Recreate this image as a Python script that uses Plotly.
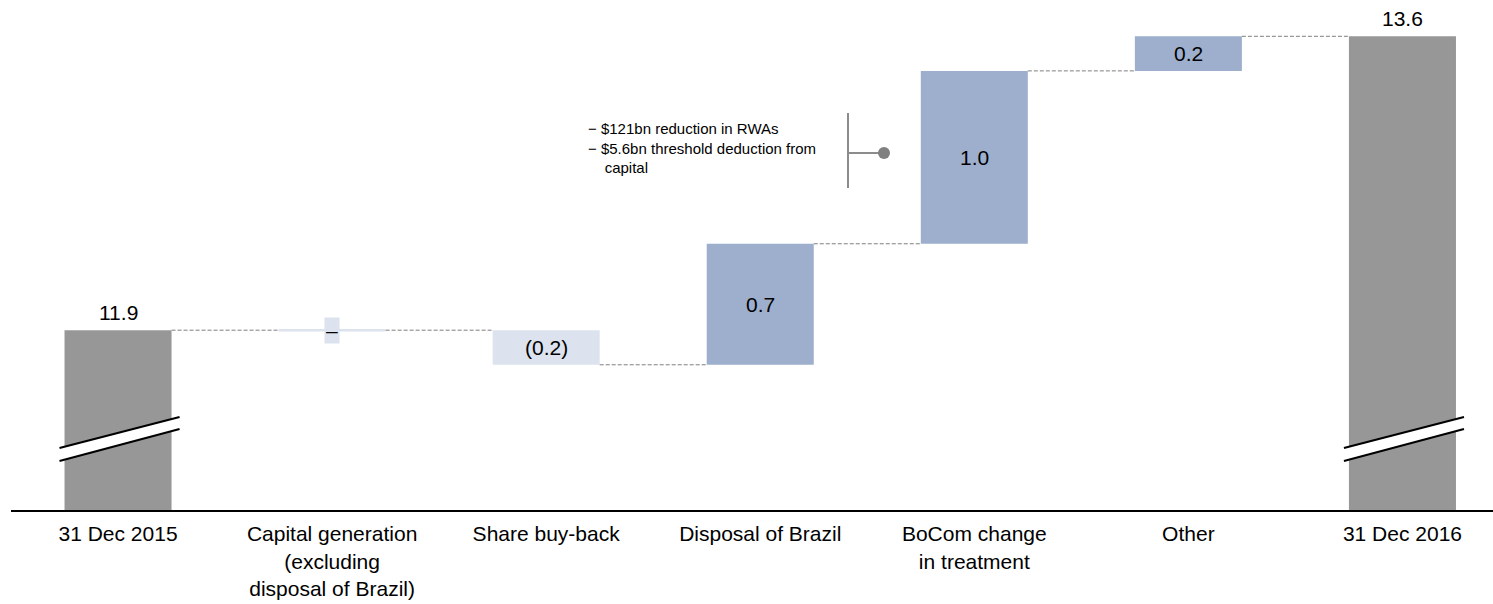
import plotly.graph_objects as go

# ---------------- data ----------------
categories = [
    "31 Dec 2015",
    "Capital generation<br>(excluding<br>disposal of Brazil)",
    "Share buy-back",
    "Disposal of Brazil",
    "BoCom change<br>in treatment",
    "Other",
    "31 Dec 2016",
]
start_value = 11.9
changes = [0.0, -0.2, 0.7, 1.0, 0.2]
end_value = 13.6
value_labels = ["11.9", "\u2013", "(0.2)", "0.7", "1.0", "0.2", "13.6"]
callout_text = ("\u2212 $121bn reduction in RWAs<br>"
                "\u2212 $5.6bn threshold deduction from<br>"
                "\u00a0\u00a0\u00a0\u00a0capital")

# ---------------- style ----------------
FONT = "Arial, Liberation Sans, sans-serif"
GREY = "#979797"
BLUE = "#9dafcd"
LIGHT = "#dce3ee"
CONN = "#7f7f7f"
Y_FLOOR = 10.86          # broken-axis floor
Y_TOP = 13.81
W, H = 1493, 604
ML, MR, MT, MB = 11, 0, 0, 94
X_RANGE = [-0.5, 6.423]
BAR_W = 0.5
LBL = 21

plot_h = H - MT - MB
px_per_unit = plot_h / (Y_TOP - Y_FLOOR)
plot_w = W - ML - MR
px_per_cat = plot_w / (X_RANGE[1] - X_RANGE[0])

# ---------------- waterfall geometry ----------------
n = len(categories)
bases, heights, colors = [], [], []
levels = []
bases.append(Y_FLOOR); heights.append(start_value - Y_FLOOR); colors.append(GREY)
running = start_value
levels.append(running)
for c in changes:
    new = running + c
    lo, hi = min(running, new), max(running, new)
    bases.append(lo); heights.append(hi - lo)
    colors.append(LIGHT if c <= 0 else BLUE)
    running = new
    levels.append(running)
bases.append(Y_FLOOR); heights.append(end_value - Y_FLOOR); colors.append(GREY)
levels.append(end_value)

xs = list(range(n))
fig = go.Figure()

fig.add_trace(go.Bar(
    x=xs, y=heights, base=bases, width=BAR_W,
    marker=dict(color=colors, line=dict(width=0)),
    hoverinfo="skip", showlegend=False,
))

for i, c in enumerate(changes, start=1):
    if c == 0:
        fig.add_trace(go.Scatter(
            x=[i - BAR_W / 2, i + BAR_W / 2], y=[levels[i], levels[i]],
            mode="lines", line=dict(color=LIGHT, width=2.5),
            hoverinfo="skip", showlegend=False,
        ))

cx, cy = [], []
for i in range(n - 1):
    lvl = levels[i]
    cx += [i + BAR_W / 2, i + 1 - BAR_W / 2, None]
    cy += [lvl, lvl, None]
fig.add_trace(go.Scatter(
    x=cx, y=cy, mode="lines",
    line=dict(color=CONN, width=1, dash="4px,2px"),
    hoverinfo="skip", showlegend=False,
))

annotations = []
for i in range(n):
    top = bases[i] + heights[i]
    if i in (0, n - 1):
        annotations.append(dict(
            x=i, y=top, xref="x", yref="y", text=value_labels[i],
            showarrow=False, yanchor="bottom", yshift=4,
            font=dict(family=FONT, size=LBL, color="black"),
        ))
    elif heights[i] == 0:
        annotations.append(dict(
            x=i, y=top, xref="x", yref="y", text=value_labels[i],
            showarrow=False, yanchor="middle", bgcolor=LIGHT, borderpad=1,
            font=dict(family=FONT, size=LBL, color="black"),
        ))
    else:
        annotations.append(dict(
            x=i, y=bases[i] + heights[i] / 2, xref="x", yref="y",
            text=value_labels[i], showarrow=False, yanchor="middle",
            font=dict(family=FONT, size=LBL, color="black"),
        ))

def px_x(p):
    return (p - ML) / plot_w

def px_y(p):
    return (H - MB - p) / plot_h

annotations.append(dict(
    x=px_x(818), y=px_y(148), xref="paper", yref="paper",
    text=callout_text, showarrow=False, xanchor="right", yanchor="middle",
    align="left", font=dict(family=FONT, size=15, color="black"),
))

shapes = []
shapes.append(dict(type="line", xref="paper", yref="paper",
                   x0=px_x(848), x1=px_x(848), y0=px_y(113), y1=px_y(188),
                   line=dict(color="#8c8c8c", width=2)))
shapes.append(dict(type="line", xref="paper", yref="paper",
                   x0=px_x(848), x1=px_x(884), y0=px_y(153), y1=px_y(153),
                   line=dict(color="#8c8c8c", width=2)))
shapes.append(dict(type="circle", xref="paper", yref="paper",
                   x0=px_x(878), x1=px_x(890), y0=px_y(147), y1=px_y(159),
                   fillcolor="#808080", line=dict(width=0)))

dxl = 0.25 + 5 / px_per_cat
dxr = 0.25 + 8 / px_per_cat
up_l = (510 - 448) / px_per_unit
up_r = (510 - 417) / px_per_unit
lo_l = (510 - 461) / px_per_unit
lo_r = (510 - 429) / px_per_unit
for i in (0, n - 1):
    x0, x1 = i - dxl, i + dxr
    path = (f"M {x0},{Y_FLOOR + up_l} L {x1},{Y_FLOOR + up_r} "
            f"L {x1},{Y_FLOOR + lo_r} L {x0},{Y_FLOOR + lo_l} Z")
    shapes.append(dict(type="path", xref="x", yref="y", path=path,
                       fillcolor="white", line=dict(width=0), layer="above"))
    shapes.append(dict(type="line", xref="x", yref="y", x0=x0, x1=x1,
                       y0=Y_FLOOR + up_l, y1=Y_FLOOR + up_r,
                       line=dict(color="black", width=2)))
    shapes.append(dict(type="line", xref="x", yref="y", x0=x0, x1=x1,
                       y0=Y_FLOOR + lo_l, y1=Y_FLOOR + lo_r,
                       line=dict(color="black", width=2)))

fig.update_layout(
    width=W, height=H,
    margin=dict(l=ML, r=MR, t=MT, b=MB, pad=0),
    plot_bgcolor="white", paper_bgcolor="white",
    annotations=annotations, shapes=shapes,
    barmode="overlay",
    xaxis=dict(
        range=X_RANGE, tickmode="array", tickvals=xs, ticktext=categories,
        showgrid=False, zeroline=False, showline=True, linecolor="black",
        linewidth=2, ticks="", ticklabelstandoff=4,
        tickfont=dict(family=FONT, size=LBL, color="black"),
        fixedrange=True,
    ),
    yaxis=dict(range=[Y_FLOOR, Y_TOP], visible=False, showgrid=False,
               zeroline=False, fixedrange=True),
)

fig.write_html(
    "out.html",
    config={"displayModeBar": False, "staticPlot": True},
    post_script="document.body.style.margin='0';document.body.style.overflow='hidden';",
)
